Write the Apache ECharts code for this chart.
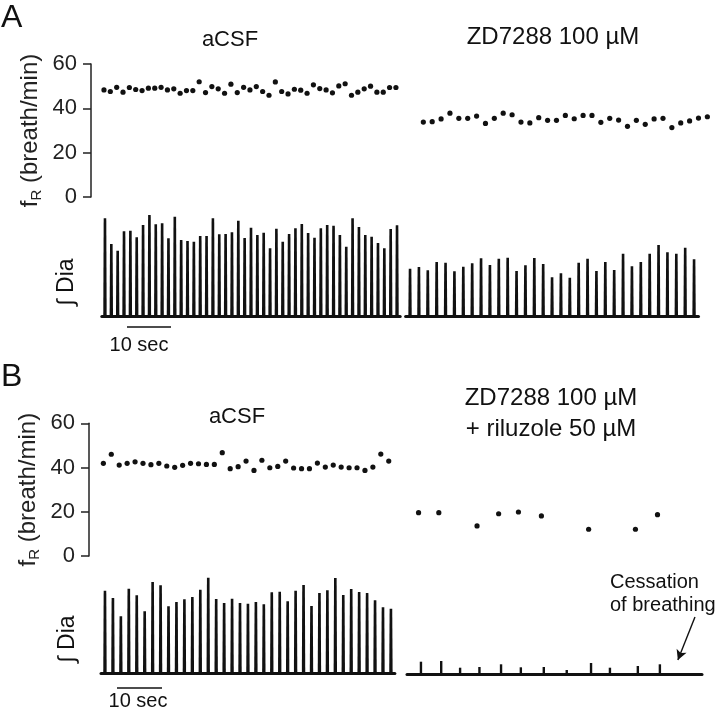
<!DOCTYPE html>
<html><head><meta charset="utf-8">
<script src="https://cdn.jsdelivr.net/npm/echarts@6/dist/echarts.min.js"></script>
<style>html,body{margin:0;padding:0;background:#fff}#c{width:720px;height:715px}</style>
</head><body><div id="c"></div>
<script>
const FONT = '"Liberation Sans", Arial, Helvetica, sans-serif';
const INK = '#111';

// ---- Panel A ----
const aCSF_A_fR = [48.3,47.6,49.5,47.3,49.4,48.5,48.0,49.1,49.1,49.5,48.3,48.8,46.8,48.0,48.0,52.0,47.1,49.8,48.8,46.8,50.9,47.1,49.5,48.3,49.8,47.6,45.9,51.9,47.6,46.5,48.6,48.2,46.8,50.6,48.9,48.3,47.0,50.1,51.1,45.9,47.3,48.8,50.0,47.3,47.3,49.4,49.4];
const zd_A_fR = [33.8,34.0,35.2,37.8,35.5,35.5,36.5,33.2,35.5,37.8,37.1,33.8,33.4,35.8,34.6,34.6,36.8,35.3,36.8,36.8,33.7,35.5,34.7,31.9,34.6,32.8,35.2,35.5,31.3,33.4,34.3,35.6,36.2];
const aCSF_A_dia = [97.7,72,65.3,84.7,85.3,78.7,91,101,91.7,92.7,77.7,99.3,76,75,74.3,80,80,97.7,81.7,82,83.7,95.3,78,88.3,81,83.3,67.7,87.3,74.3,82,87.7,92,83,78.3,87.7,91,90.3,81,69.3,97.7,89,81,79.3,73,67.7,87,90.7];
const zd_A_dia = [47.3,49,45.7,54,53.3,44.7,49.3,52.7,57.7,51,57.3,58.3,45,50.7,58,52,38.7,42.7,38.3,53.3,57.3,45,54,46,62.3,49.7,54,62.3,71,63.7,62.3,68.3,56.7];

// ---- Panel B ----
const aCSF_B_fR = [41.9,46.0,41.1,41.9,42.6,41.9,41.3,41.9,40.7,40.1,41.0,41.9,41.7,41.4,41.4,46.7,39.5,40.4,42.9,38.7,43.3,39.9,40.5,42.9,39.8,39.5,39.5,42.0,40.2,41.1,40.2,39.9,39.9,38.7,40.2,46.1,42.9];
const aCSF_B_dia = [82.3,75,56.7,84.3,77.7,61.7,91,87.7,66.7,71,73.7,76,83.3,95.3,74,70,74.3,70,69.3,71,68.7,80.7,81.3,71.7,82.3,88,67,80,82.7,95,78,84,81,80,72.7,65.7,64.3];
const zd_B_time = [3.1,7.6,11.8,16.1,20.9,25.3,30.4,35.5,40.9,45.1,51.3,56.2];   // s
const zd_B_dia = [12.3,13,6.3,7,9.7,6.7,7,4,11,6.3,8,9.7];
const zd_B_fR = [19.6,19.6,null,13.6,19.1,19.9,18.1,null,12.1,null,12.1,18.7];

const panelLetters = ['A','B'];
const condA = ['aCSF','ZD7288 100 µM'];
const condB = ['aCSF','ZD7288 100 µM\n+ riluzole 50 µM'];
const yName = 'f{s|R} (breath/min)';
const traceName = '∫ Dia';
const scaleText = '10 sec';
const noteText = 'Cessation\nof breathing';

const breaths = n => Array.from({length:n},(_,i)=>String(i+1));

const grids = [
  {left:100.8, top:64,    width:298.3, height:133},   // 0 A fR aCSF
  {left:418.9, top:64,    width:292.9, height:133},   // 1 A fR ZD
  {left:101.8, top:206,   width:298.4, height:110},   // 2 A Dia aCSF
  {left:405.6, top:206,   width:292.9, height:110},   // 3 A Dia ZD
  {left:99.4,  top:423.3, width:293.3, height:132.7}, // 4 B fR aCSF
  {left:404.6, top:423.3, width:295,   height:132.7}, // 5 B fR ZD
  {left:101.0, top:563,   width:293.9, height:110},   // 6 B Dia aCSF
  {left:407,   top:564,   width:295,   height:110}    // 7 B Dia ZD
];

const hiddenCat = (g,n,line) => ({type:'category', gridIndex:g, data:breaths(n), boundaryGap:true,
  axisLine:{show:!!line, onZero:false, lineStyle:{color:INK,width:3}}, axisTick:{show:false}, axisLabel:{show:false}, splitLine:{show:false}});
const hiddenVal = (g,max,line) => ({type:'value', gridIndex:g, min:0, max:max,
  axisLine:{show:!!line, onZero:false, lineStyle:{color:INK,width:3}}, axisTick:{show:false}, axisLabel:{show:false}, splitLine:{show:false}});

const fRAxis = (g,off,visible) => ({type:'value', gridIndex:g, min:0, max:60, interval:20, offset:off, show:visible,
  axisLine:{show:true, lineStyle:{color:'#222', width:1.5}},
  axisTick:{show:true, length:8, inside:false, lineStyle:{color:'#222', width:1.5}},
  axisLabel:{show:true, margin:14, fontSize:22, color:'#222', fontFamily:FONT},
  splitLine:{show:false},
  name: visible ? yName : '', nameLocation:'middle', nameGap:47, nameRotate:90,
  nameTextStyle:{fontSize:24, color:'#222', fontFamily:FONT, lineHeight:28,
    rich:{s:{fontSize:15, fontFamily:FONT, color:'#222', verticalAlign:'bottom', lineHeight:28}}}
});
const diaAxis = g => ({type:'value', gridIndex:g, min:0, max:110, show:false});

const xAxis = [
  hiddenCat(0,47,false),
  hiddenCat(1,33,false),
  hiddenCat(2,47,true),
  hiddenCat(3,33,true),
  hiddenCat(4,37,false),
  hiddenVal(5,65.56,false),
  hiddenCat(6,37,true),
  hiddenVal(7,65.56,true)
];
const yAxis = [
  fRAxis(0,9.8,true), fRAxis(1,0,false), diaAxis(2), diaAxis(3),
  fRAxis(4,10.4,true), fRAxis(5,0,false), diaAxis(6), diaAxis(7)
];

const dot = {symbol:'circle', symbolSize:5.2, itemStyle:{color:INK, opacity:1}};
const spikePath = 'path://M0,40 L0.4,0 L3.0,0 L3.4,40 Z';
const spike = {type:'pictorialBar', symbol:spikePath, symbolSize:[3.4,'100%'], symbolKeepAspect:false,
  symbolPosition:'start', itemStyle:{color:INK}, barCategoryGap:'0%'};

const series = [
  Object.assign({type:'scatter', xAxisIndex:0, yAxisIndex:0, data:aCSF_A_fR}, dot),
  Object.assign({type:'scatter', xAxisIndex:1, yAxisIndex:1, data:zd_A_fR}, dot),
  Object.assign({}, spike, {xAxisIndex:2, yAxisIndex:2, data:aCSF_A_dia}),
  Object.assign({}, spike, {xAxisIndex:3, yAxisIndex:3, data:zd_A_dia}),
  Object.assign({type:'scatter', xAxisIndex:4, yAxisIndex:4, data:aCSF_B_fR}, dot),
  Object.assign({type:'scatter', xAxisIndex:5, yAxisIndex:5,
    data: zd_B_time.map((t,i)=>[t, zd_B_fR[i]]).filter(d=>d[1]!==null)}, dot),
  Object.assign({}, spike, {xAxisIndex:6, yAxisIndex:6, data:aCSF_B_dia}),
  {type:'bar', xAxisIndex:7, yAxisIndex:7, barWidth:2.4, itemStyle:{color:INK},
    data: zd_B_time.map((t,i)=>[t, zd_B_dia[i]])},
  {type:'line', xAxisIndex:7, yAxisIndex:7, data:[], symbol:'none',
    markLine:{silent:true, symbol:['none','arrow'], symbolSize:[8,10],
      lineStyle:{color:INK, width:1.4, type:'solid'}, label:{show:false},
      data:[[{coord:[64.0,57]},{coord:[60.2,14]}]]}}
];

const txt = (text,x,y,size,align,extra,lh) => Object.assign({type:'text', x:x, y:y, style:{text:text, x:0, y:0,
  font:size+'px '+FONT, fill:INK, align:align||'center', verticalAlign:'middle', lineHeight:lh||undefined}}, extra||{});

const graphic = [
  txt(panelLetters[0], 1, 18, 32, 'left'),
  txt(panelLetters[1], 1, 377, 32, 'left'),
  txt(condA[0], 230, 40, 22),
  txt(condA[1], 553, 37, 24),
  txt(condB[0], 237, 417, 22),
  txt(condB[1], 551, 414, 24, 'center', null, 31),
  txt(traceName, 67, 282, 23, 'center', {rotation:Math.PI/2}),
  txt(traceName, 68, 639, 23, 'center', {rotation:Math.PI/2}),
  {type:'line', shape:{x1:127, y1:327, x2:171, y2:327}, style:{stroke:INK, lineWidth:1.7}},
  {type:'line', shape:{x1:117, y1:688, x2:162, y2:688}, style:{stroke:INK, lineWidth:1.7}},
  txt(scaleText, 139, 345, 20),
  txt(scaleText, 138, 701, 20),
  txt(noteText, 610, 594, 20, 'left', null, 23)
];

const chart = echarts.init(document.getElementById('c'), null, {renderer:'canvas'});
chart.setOption({
  backgroundColor:'#fff', animation:false,
  grid: grids, xAxis: xAxis, yAxis: yAxis, series: series, graphic: graphic,
  textStyle:{fontFamily:FONT}
});
</script></body></html>
